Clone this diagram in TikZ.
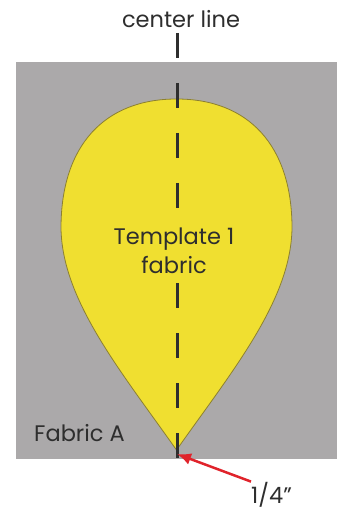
\documentclass[tikz,border=0pt]{standalone}
\usepackage{fontspec}
\setmainfont{Poppins}
\usepackage{xcolor}
\usetikzlibrary{arrows.meta}
\definecolor{fabgray}{HTML}{ABA9AA}
\definecolor{dropyellow}{HTML}{F0DF30}
\definecolor{dropedge}{HTML}{8C8030}
\definecolor{inkgray}{HTML}{2E2E2E}
\definecolor{arrowred}{HTML}{E0232B}
\tikzset{
  lbl/.style={text=inkgray,font=\fontsize{22.5}{29}\selectfont,inner sep=0pt},
  centerdash/.style={line width=3pt,inkgray,dash pattern=on 25pt off 25pt}
}

\begin{document}
\begin{tikzpicture}[x=1pt,y=-1pt]
\useasboundingbox (0,0) rectangle (341,510);
% fabric A background
\fill[fabgray] (16,62) rectangle (337,459);
% template 1 drop
\draw[fill=dropyellow,draw=dropedge,line width=0.8pt]
  (176.5,450) .. controls (120,370) and (62,300) .. (61,228)
  .. controls (61,145) and (105,99) .. (176.5,99)
  .. controls (248,99) and (292,145) .. (292,228)
  .. controls (291,300) and (233,370) .. (176.5,450) -- cycle;
% center line
\coordinate (ctop) at (177,33);
\coordinate (cbot) at (177,459);
\draw[centerdash] (ctop) -- (cbot);
\node[lbl,anchor=base] (cl) at (181,28) {center line};
\node[lbl,align=center,fill=dropyellow,inner sep=2pt] (tmpl) at (174,251) {Template 1\\fabric};
\node[lbl,anchor=base west] (fabA) at (34,441) {Fabric A};
% seam allowance arrow
\node[lbl,anchor=base west] (quarter) at (251,503) {1/4''};
\coordinate (tip) at (177,454);
\draw[arrowred,line width=2.5pt,-{Latex[length=14pt,width=12pt]}] (quarter.north west) -- (tip);
\end{tikzpicture}
\end{document}
